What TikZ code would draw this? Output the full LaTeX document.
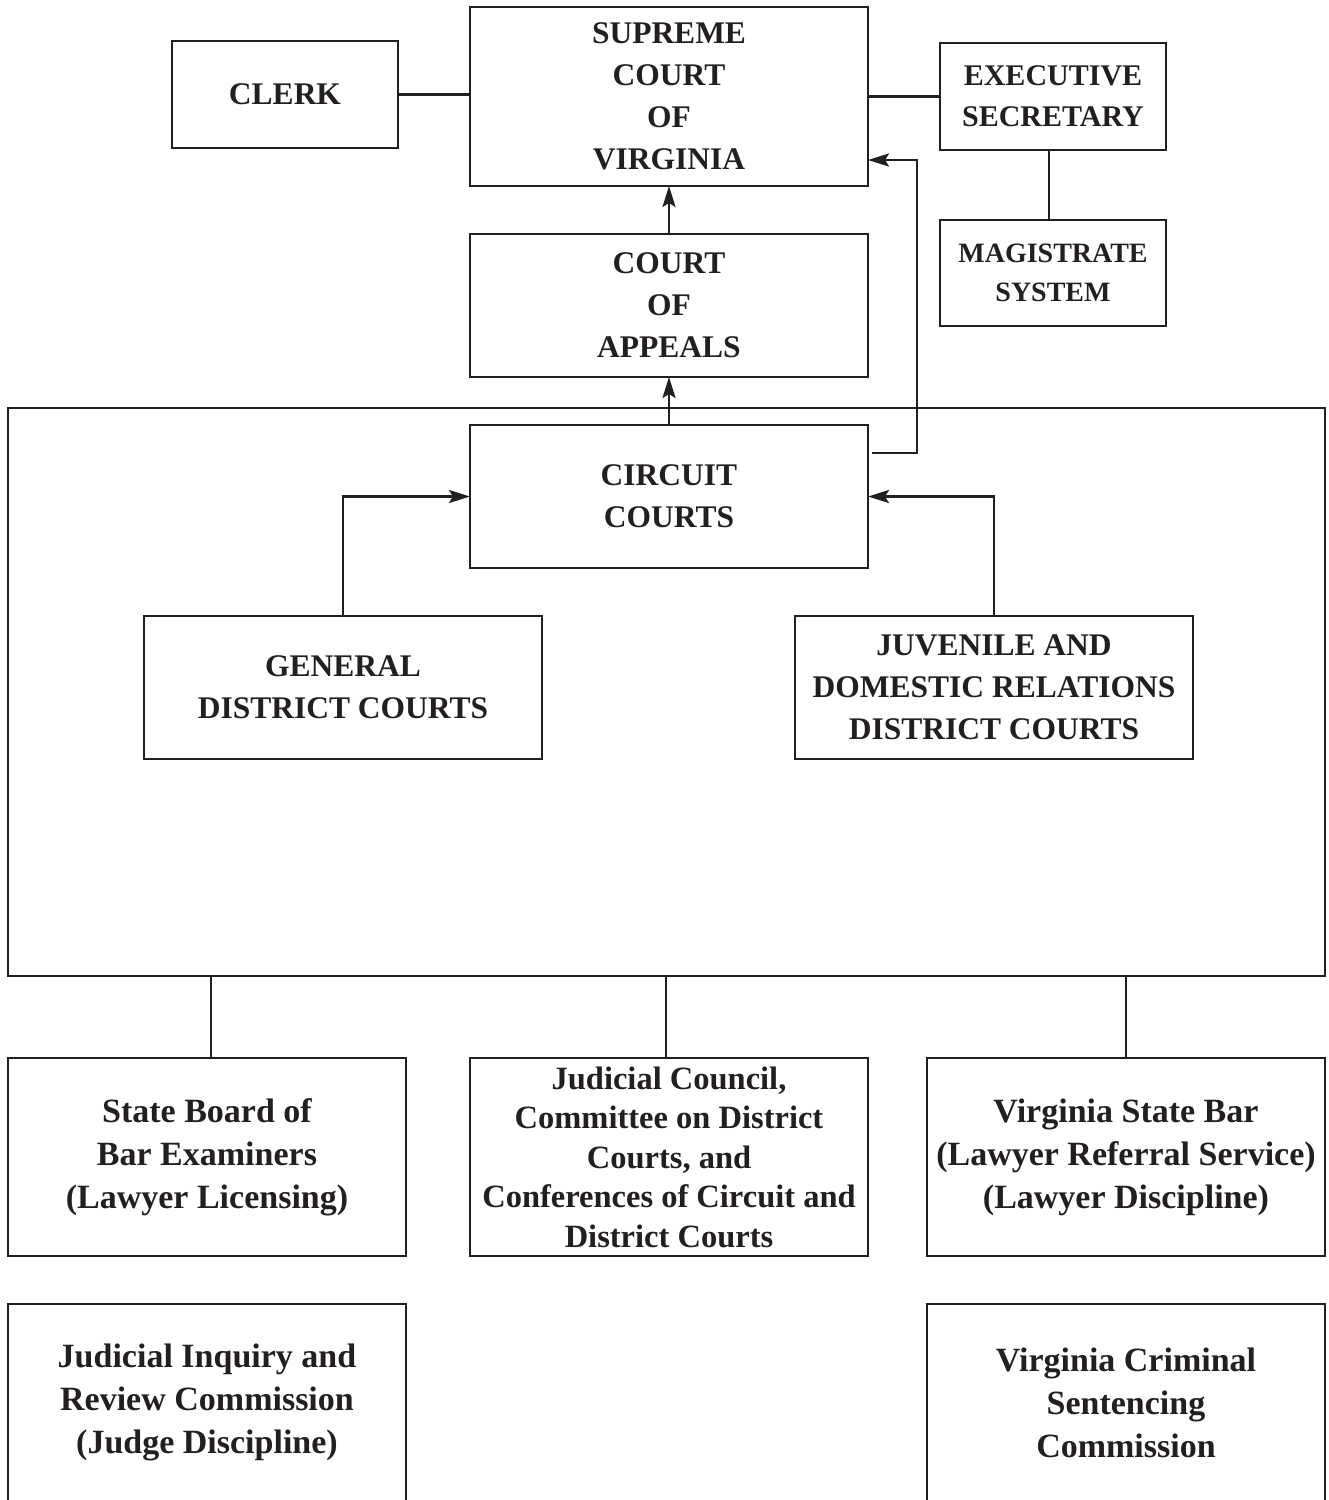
\documentclass[tikz,border=0pt]{standalone}
\usepackage{fontspec}
\setmainfont{Liberation Serif}
\usetikzlibrary{arrows.meta,calc}
\definecolor{ink}{HTML}{231F20}
\begin{document}
\begin{tikzpicture}[x=1pt,y=-1pt,
  line width=2.5pt, draw=ink,
  box/.style={draw=ink, line width=2.5pt, inner sep=0pt, outer sep=0pt, align=center, text=ink,
    minimum width=398pt, minimum height=143pt, font=\fontsize{31.5}{42}\selectfont\bfseries},
  small/.style={minimum width=226pt, minimum height=107pt},
  lower/.style={font=\fontsize{34}{43}\selectfont\bfseries, minimum height=198pt},
  label/.style={inner sep=0pt, align=center, text=ink, font=\fontsize{34}{43}\selectfont\bfseries},
  arr/.style={-{Stealth[length=21pt,width=13pt,inset=4pt]}},
  wire/.style={draw=ink, line width=2.5pt}]
\useasboundingbox (0,0) rectangle (1329,1500);
\clip (0,0) rectangle (1329,1500);

% top row
\node[box, minimum height=179pt] (sup) at (669,96.5) {SUPREME\\COURT\\OF\\VIRGINIA};
\node[box, small] (clerk) at (285,94.5) {CLERK};
\node[box, small, font=\fontsize{30}{41}\selectfont\bfseries] (exec) at (1053,96.5) {EXECUTIVE\\SECRETARY};
\node[box, small, minimum height=106pt, font=\fontsize{28}{39}\selectfont\bfseries] (mag) at (1053,273) {MAGISTRATE\\SYSTEM};
\node[box] (coa) at (669,305.5) {COURT\\OF\\APPEALS};

% big frame
\node[box, minimum width=1317pt, minimum height=568pt] (big) at (666.5,692) {};
\node[box] (cir) at (669,496.5) {CIRCUIT\\COURTS};
\node[box] (gen) at (343,687.5) {GENERAL\\DISTRICT COURTS};
\node[box] (jdr) at (994,687.5) {JUVENILE AND\\DOMESTIC RELATIONS\\DISTRICT COURTS};

% bottom row
\node[box, lower] (sb) at (207,1157) {State Board of\\Bar Examiners\\(Lawyer Licensing)};
\node[box, lower, font=\fontsize{32.5}{39.5}\selectfont\bfseries] (jc) at (669,1157) {Judicial Council,\\Committee on District\\Courts, and\\Conferences of Circuit and\\District Courts};
\node[box, lower] (vsb) at (1126,1157) {Virginia State Bar\\(Lawyer Referral Service)\\(Lawyer Discipline)};

% last row (cut off at the bottom)
\node[label] (jirc) at (207,1402.5) {Judicial Inquiry and\\Review Commission\\(Judge Discipline)};
\node[label] (vcsc) at (1126,1402.5) {Virginia Criminal\\Sentencing\\Commission};
\draw[wire] (8,1530) |- (406,1304) -- (406,1530);
\draw[wire] (927,1530) |- (1325,1304) -- (1325,1530);

% connectors
\draw[wire] (clerk.east) -- (clerk.east -| sup.west);
\draw[wire] (exec.west) -- (exec.west -| sup.east);
\draw[wire] ([xshift=-4pt]exec.south) -- ([xshift=-4pt]mag.north);
\draw[wire, arr] (coa.north) -- (sup.south);
\draw[wire, arr] (cir.north) -- (coa.south);
\coordinate (cs) at ($(cir.north east)+(4,28)$);
\coordinate (ct) at (917,160);
\draw[wire, arr] (cs) -| (ct) -- (ct -| sup.east);
\draw[wire, arr] (gen.north) |- (cir.west);
\draw[wire, arr] (jdr.north) |- (cir.east);
\coordinate (sbt) at ($(sb.north)+(4,0)$);
\coordinate (jct) at ($(jc.north)+(-3,0)$);
\draw[wire] (big.south -| sbt) -- (sbt);
\draw[wire] (big.south -| jct) -- (jct);
\draw[wire] (big.south -| vsb.north) -- (vsb.north);
\end{tikzpicture}
\end{document}
